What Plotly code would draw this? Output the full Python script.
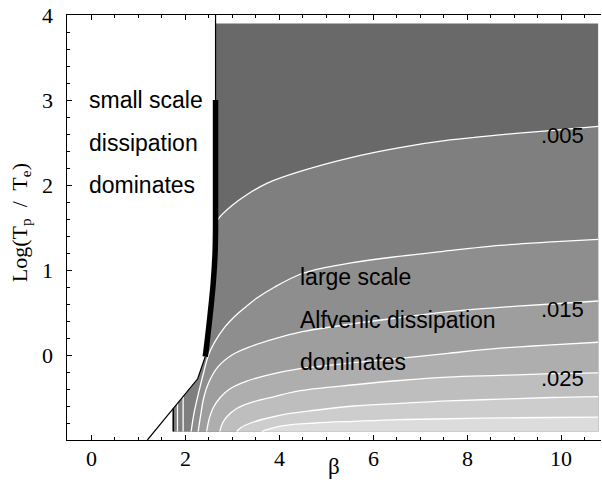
import plotly.graph_objects as go

# ---------------- data ----------------
levels = [0.005, 0.010, 0.015, 0.020, 0.025, 0.030, 0.035]
band_colors = ['#696969', '#7f7f7f', '#8e8e8e', '#9e9e9e', '#aeaeae', '#bebebe', '#cdcdcd', '#dcdcdc']

c005_beta = [2.65, 2.8, 3.0, 3.3, 3.74, 4.45, 5.51, 6.57, 7.64, 8.70, 9.77, 10.79]
c005_logt = [1.56, 1.66, 1.76, 1.88, 2.02, 2.16, 2.32, 2.44, 2.53, 2.59, 2.64, 2.69]

c010_beta = [2.13, 2.2, 2.3, 2.4, 2.5, 2.64, 2.85, 3.05, 3.28, 3.53, 3.91, 4.45, 5.0, 5.5, 6.4, 7.5, 8.7, 9.8, 10.79]
c010_logt = [-0.9, -0.66, -0.42, -0.2, 0.0, 0.16, 0.33, 0.45, 0.56, 0.67, 0.80, 0.95, 1.03, 1.08, 1.15, 1.22, 1.29, 1.33, 1.36]

c015_beta = [2.28, 2.33, 2.4, 2.5, 2.7, 3.0, 3.4, 3.9, 4.45, 5.6, 6.57, 7.6, 8.7, 9.8, 10.79]
c015_logt = [-0.9, -0.72, -0.5, -0.33, -0.14, 0.0, 0.1, 0.19, 0.27, 0.37, 0.44, 0.51, 0.56, 0.60, 0.635]

c020_beta = [2.46, 2.52, 2.6, 2.75, 2.95, 3.3, 3.8, 4.45, 5.6, 6.57, 7.6, 8.7, 9.8, 10.79]
c020_logt = [-0.9, -0.74, -0.62, -0.5, -0.4, -0.31, -0.23, -0.16, -0.09, -0.04, 0.02, 0.08, 0.12, 0.15]

c025_beta = [2.74, 2.8, 2.9, 3.1, 3.4, 3.9, 4.45, 5.6, 6.57, 7.6, 8.7, 9.8, 10.79]
c025_logt = [-0.9, -0.8, -0.72, -0.63, -0.56, -0.49, -0.42, -0.35, -0.30, -0.26, -0.24, -0.22, -0.21]

c030_beta = [3.10, 3.2, 3.4, 3.7, 4.2, 4.77, 5.6, 6.57, 7.6, 8.7, 9.8, 10.79]
c030_logt = [-0.9, -0.85, -0.8, -0.75, -0.69, -0.65, -0.60, -0.57, -0.54, -0.52, -0.50, -0.49]

c035_beta = [3.63, 3.8, 4.1, 4.77, 5.6, 6.57, 7.6, 8.7, 9.8, 10.79]
c035_logt = [-0.9, -0.87, -0.83, -0.80, -0.78, -0.76, -0.75, -0.74, -0.735, -0.73]

contours_beta = [c005_beta, c010_beta, c015_beta, c020_beta, c025_beta, c030_beta, c035_beta]
contours_logt = [c005_logt, c010_logt, c015_logt, c020_logt, c025_logt, c030_logt, c035_logt]

# shaded domain limits
dom_beta_max = 10.79
dom_logt_min = -0.9
dom_logt_max = 3.9

# thick boundary curve (top to bottom)
thick_beta = [2.65, 2.65, 2.65, 2.64, 2.60, 2.53, 2.45, 2.43]
thick_logt = [3.0, 2.0, 1.5, 1.2, 0.84, 0.45, 0.06, -0.02]
# thin vertical line above the thick curve
vline_beta = [2.65, 2.65]
vline_logt = [4.0, 3.0]
# thin line below the thick curve (top to bottom)
diag_beta = [2.43, 2.27, 1.2]
diag_logt = [-0.02, -0.28, -1.0]
# black edge line and light stripes at lower left
edge_beta = [1.75, 1.75]
edge_logt = [-0.9, -0.63]
stripe1_beta = [1.84, 1.84]
stripe1_logt = [-0.9, -0.57]
stripe2_beta = [1.96, 1.96]
stripe2_logt = [-0.9, -0.49]

x_ticks = [0, 2, 4, 6, 8, 10]
y_ticks = [0, 1, 2, 3, 4]

contour_labels = ['.005', '.015', '.025']
contour_label_beta = [10.04, 10.04, 10.04]
contour_label_logt = [2.58, 0.54, -0.28]

region_text_left = ['small scale', 'dissipation', 'dominates']
region_left_beta = -0.09
region_left_logt = [3.0, 2.5, 2.0]
region_text_right = ['large scale', 'Alfvenic dissipation', 'dominates']
region_right_beta = 4.41
region_right_logt = [0.92, 0.41, -0.08]

# ---------------- figure ----------------
fig = go.Figure()

lower_bnd_beta = [edge_beta[0], edge_beta[1], diag_beta[1], diag_beta[0]]
lower_bnd_logt = [edge_logt[0], edge_logt[1], diag_logt[1], diag_logt[0]]

dx = [vline_beta[1], dom_beta_max, dom_beta_max] + lower_bnd_beta + thick_beta[::-1] + [vline_beta[1]]
dy = [dom_logt_max, dom_logt_max, dom_logt_min] + lower_bnd_logt + thick_logt[::-1] + [dom_logt_max]
fig.add_trace(go.Scatter(x=dx, y=dy, fill='toself', fillcolor=band_colors[0], mode='none',
                         hoverinfo='skip', showlegend=False))

for i, (cb, cl) in enumerate(zip(contours_beta, contours_logt)):
    if cl[0] > dom_logt_min:
        tb = [b for b, t in zip(thick_beta, thick_logt) if t < cl[0]]
        tt = [t for t in thick_logt if t < cl[0]]
        px = cb + [dom_beta_max] + lower_bnd_beta + tb[::-1] + [cb[0]]
        py = cl + [dom_logt_min] + lower_bnd_logt + tt[::-1] + [cl[0]]
    else:
        px = cb + [dom_beta_max, cb[0]]
        py = cl + [dom_logt_min, dom_logt_min]
    fig.add_trace(go.Scatter(x=px, y=py, fill='toself', fillcolor=band_colors[i + 1], mode='none',
                             hoverinfo='skip', showlegend=False))

for cb, cl in zip(contours_beta, contours_logt):
    fig.add_trace(go.Scatter(x=cb, y=cl, mode='lines', line=dict(color='white', width=1.3, shape='spline'),
                             hoverinfo='skip', showlegend=False))

for sb, sl in [(stripe1_beta, stripe1_logt), (stripe2_beta, stripe2_logt)]:
    fig.add_trace(go.Scatter(x=sb, y=sl, mode='lines', line=dict(color='white', width=1.3),
                             hoverinfo='skip', showlegend=False))

fig.add_trace(go.Scatter(x=edge_beta, y=edge_logt, mode='lines', line=dict(color='black', width=1.6),
                         hoverinfo='skip', showlegend=False))
fig.add_trace(go.Scatter(x=vline_beta, y=vline_logt, mode='lines', line=dict(color='black', width=1.2),
                         hoverinfo='skip', showlegend=False))
fig.add_trace(go.Scatter(x=diag_beta, y=diag_logt, mode='lines', line=dict(color='black', width=1.2),
                         hoverinfo='skip', showlegend=False))
fig.add_trace(go.Scatter(x=thick_beta, y=thick_logt, mode='lines',
                         line=dict(color='black', width=5.5, shape='spline'),
                         hoverinfo='skip', showlegend=False))

sans = 'Liberation Sans, Arial, Helvetica'
serif = 'Liberation Serif, Times New Roman, Times'
annotations = []
for txt, b, t in zip(contour_labels, contour_label_beta, contour_label_logt):
    annotations.append(dict(x=b, y=t, text=txt, showarrow=False, xanchor='center', yanchor='middle',
                            font=dict(family=sans, size=22, color='black')))
for txt, t in zip(region_text_left, region_left_logt):
    annotations.append(dict(x=region_left_beta, y=t, text=txt, showarrow=False, xanchor='left',
                            yanchor='middle', font=dict(family=sans, size=23, color='black')))
for txt, t in zip(region_text_right, region_right_logt):
    annotations.append(dict(x=region_right_beta, y=t, text=txt, showarrow=False, xanchor='left',
                            yanchor='middle', font=dict(family=sans, size=23, color='black')))
# tick labels (placed as text so their distance from the axes matches)
for v in x_ticks:
    annotations.append(dict(x=v, xref='x', y=0, yref='paper', yshift=-18, text=str(v), showarrow=False,
                            xanchor='center', yanchor='middle', font=dict(family=serif, size=22, color='black')))
for v in y_ticks:
    annotations.append(dict(x=0, xref='paper', y=v, yref='y', xshift=-12, text=str(v), showarrow=False,
                            xanchor='right', yanchor='middle', font=dict(family=serif, size=22, color='black')))
annotations.append(dict(xref='paper', yref='paper', x=0, y=0.51, xshift=-46,
                        text='Log(T<sub>p</sub>  /  T<sub>e</sub>)',
                        textangle=-90, showarrow=False, xanchor='center', yanchor='middle',
                        font=dict(family=serif, size=22, color='black')))
annotations.append(dict(xref='paper', yref='paper', x=0.5, y=0, yshift=-26, text='β',
                        showarrow=False, xanchor='center', yanchor='middle',
                        font=dict(family=serif, size=23, color='black')))

fig.update_layout(
    width=602, height=498,
    margin=dict(l=67, r=1, t=15, b=58, autoexpand=False),
    paper_bgcolor='white', plot_bgcolor='white',
    annotations=annotations,
    xaxis=dict(range=[-0.5106, 10.851], showgrid=False, zeroline=False, showline=True, automargin=False,
               linecolor='black', linewidth=1.2, mirror='ticks', ticks='inside', ticklen=5,
               tickcolor='black', tickvals=x_ticks, showticklabels=False,
               minor=dict(dtick=0.5, tick0=0, ticks='inside', ticklen=3, tickcolor='black')),
    yaxis=dict(range=[-1, 4], showgrid=False, zeroline=False, showline=True, automargin=False,
               linecolor='black', linewidth=1.2, mirror=False, ticks='inside', ticklen=5,
               tickcolor='black', tickvals=y_ticks, showticklabels=False,
               minor=dict(dtick=0.2, tick0=0, ticks='inside', ticklen=3, tickcolor='black')),
)

fig.write_html('out.html', config={'displayModeBar': False},
               post_script="document.body.style.margin='0';document.body.style.overflow='hidden';")
